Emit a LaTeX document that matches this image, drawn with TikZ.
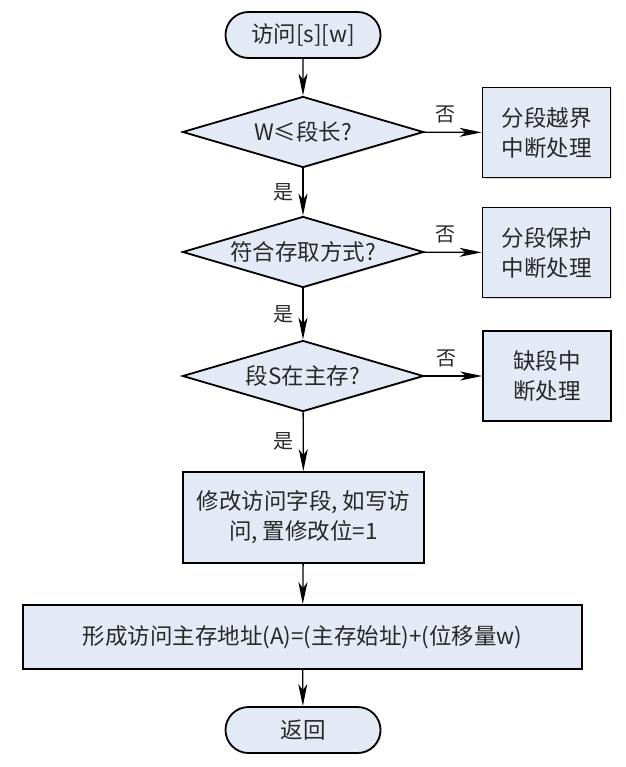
\documentclass[tikz,border=0pt]{standalone}
\usepackage{fontspec}
\setmainfont{Noto Sans CJK SC}
\usepackage{tikz}
\usetikzlibrary{shapes,arrows.meta,positioning,calc,shadows}
\definecolor{boxfill}{RGB}{228, 234, 245}
\definecolor{textgray}{RGB}{40, 40, 40}

\tikzset{
    base/.style={draw=black,line width=1.8pt,fill=boxfill,text=textgray,
        font=\fontsize{22.5}{30}\selectfont,align=center,inner sep=0pt,
        drop shadow={shadow xshift=1.2pt,shadow yshift=-1.2pt,fill=gray!50}},
    startstop/.style={base,rounded rectangle,minimum width=155pt,minimum height=46pt},
    decision/.style={base,diamond,minimum width=241pt,minimum height=71pt,aspect=3.4},
    process/.style={base,rectangle,minimum width=241pt,minimum height=91pt},
    handler/.style={base,rectangle,minimum width=128pt,minimum height=90pt},
    flow/.style={-{Stealth[length=22pt,width=9pt,inset=6pt]},line width=1.3pt},
    lbl/.style={font=\fontsize{20}{22}\selectfont,text=textgray}
}

\begin{document}
\begin{tikzpicture}[x=1pt,y=-1pt]
    \useasboundingbox (0,0) rectangle (625,767);
    % main column
    \node[startstop] (visit) at (303,35) {访问[s][w]};
    \node[decision] (len) at (303,132) {W≤段长?};
    \node[decision] (mode) at (303,252) {符合存取方式?};
    \node[decision] (inmem) at (303,376) {段S在主存?};
    \node[process] (modify) at (303.5,517.5) {修改访问字段, 如写访\\问, 置修改位=1};
    \node[base,rectangle,minimum width=559pt,minimum height=64pt] (addr) at (302.5,637)
        {形成访问主存地址(A)=(主存始址)+(位移量w)};
    \node[startstop] (ret) at (303,730) {返回};

    % interrupt handlers
    \node[handler] (overflow) at (546.5,132.5) {分段越界\\中断处理};
    \node[handler] (protect) at (546.5,252.5) {分段保护\\中断处理};
    \node[handler] (missing) at (547,376) {缺段中\\断处理};

    % connectors
    \draw[flow] (visit) -- (len);
    \draw[flow] (len) -- node[lbl,left=6pt] {是} (mode);
    \draw[flow] (mode) -- node[lbl,left=6pt] {是} (inmem);
    \draw[flow] (inmem) -- node[lbl,left=6pt] {是} (modify);
    \draw[flow] (modify) -- (addr);
    \draw[flow] (addr) -- (ret);
    \draw[flow] (len) -- node[lbl,above=5pt,pos=0.38] {否} (overflow);
    \draw[flow] (mode) -- node[lbl,above=5pt,pos=0.38] {否} (protect);
    \draw[flow] (inmem) -- node[lbl,above=5pt,pos=0.38] {否} (missing);
\end{tikzpicture}
\end{document}
